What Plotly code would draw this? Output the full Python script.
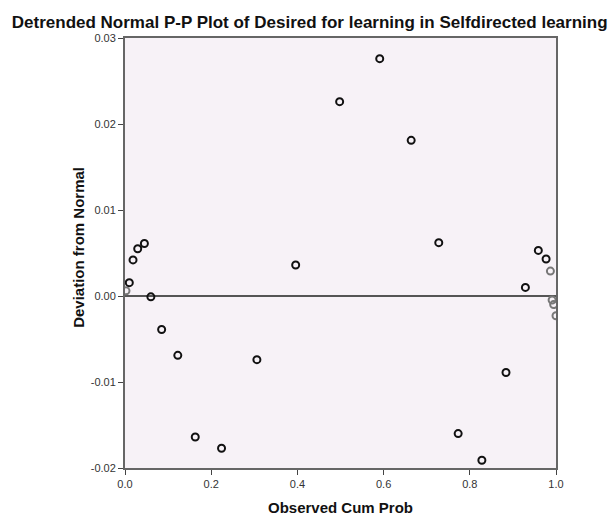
import plotly.graph_objects as go

observed_cum_prob = [0.0023, 0.010, 0.0186, 0.0295, 0.045, 0.060, 0.085, 0.1225,
                     0.163, 0.224, 0.306, 0.396, 0.498, 0.591, 0.664, 0.728,
                     0.773, 0.828, 0.884, 0.929, 0.959, 0.977, 0.987, 0.991,
                     0.9946, 1.0]
deviation = [0.0006, 0.00155, 0.0042, 0.0055, 0.0061, -0.0001, -0.0039, -0.0069,
             -0.0164, -0.0177, -0.0074, 0.0036, 0.0226, 0.0276, 0.0181, 0.0062,
             -0.0160, -0.0191, -0.0089, 0.0010, 0.0053, 0.0043, 0.0029, -0.00047,
             -0.0010, -0.0023]

x_ticks = [0.0, 0.2, 0.4, 0.6, 0.8, 1.0]
x_tick_labels = ["0.0", "0.2", "0.4", "0.6", "0.8", "1.0"]
y_ticks = [-0.02, -0.01, 0.0, 0.01, 0.02, 0.03]
y_tick_labels = ["-0.02", "-0.01", "0.00", "0.01", "0.02", "0.03"]

faint = {0, 22, 23, 24, 25}
marker_colors = ["#777777" if i in faint else "#111111" for i in range(len(deviation))]

fig = go.Figure()
fig.add_trace(go.Scatter(
    x=[0, 1], y=[0, 0], mode="lines",
    line=dict(color="#555555", width=2), hoverinfo="skip", showlegend=False,
))
fig.add_trace(go.Scatter(
    x=observed_cum_prob, y=deviation, mode="markers",
    marker=dict(symbol="circle-open", size=7, color=marker_colors,
                line=dict(color=marker_colors, width=2)),
    showlegend=False,
))

fig.update_layout(
    width=612, height=520,
    margin=dict(l=125, r=56, t=38, b=52),
    paper_bgcolor="white",
    plot_bgcolor="#F7F2F7",
    font=dict(family="Arial, Liberation Sans, sans-serif", color="#222222"),
    title=dict(
        text="<b>Detrended Normal P-P Plot of Desired for learning in Selfdirected learning</b>",
        x=0.506, xref="container", xanchor="center",
        y=0.958, yref="container", yanchor="middle",
        font=dict(size=17, color="#111111"),
    ),
    xaxis=dict(
        range=[0, 1], tickvals=x_ticks, ticktext=x_tick_labels,
        showgrid=False, zeroline=False, showline=True, linecolor="#666666",
        linewidth=2, mirror=True, ticks="outside", ticklen=5, tickcolor="#444444",
        tickfont=dict(size=11, color="#333333"), automargin=False,
    ),
    yaxis=dict(
        range=[-0.02, 0.03], tickvals=y_ticks, ticktext=y_tick_labels,
        showgrid=False, zeroline=False, showline=True, linecolor="#666666",
        linewidth=2, mirror=True, ticks="outside", ticklen=5, tickcolor="#444444",
        tickfont=dict(size=11, color="#333333"), automargin=False,
    ),
    annotations=[
        dict(text="<b>Observed Cum Prob</b>", xref="paper", yref="paper",
             x=0.5, y=-0.0907, xanchor="center", yanchor="middle", showarrow=False,
             font=dict(size=15, color="#111111")),
        dict(text="<b>Deviation from Normal</b>", xref="paper", yref="paper",
             x=-0.107, y=0.514, xanchor="center", yanchor="middle", showarrow=False,
             textangle=-90, font=dict(size=15, color="#111111")),
    ],
)

fig.write_html("out.html")
